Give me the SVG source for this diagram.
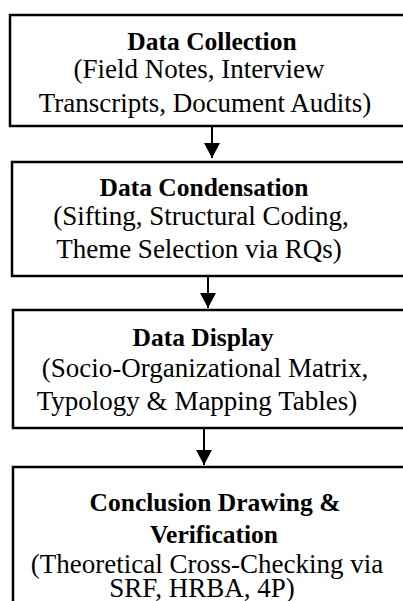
<svg xmlns="http://www.w3.org/2000/svg" width="403" height="601" viewBox="0 0 403 601">
<style>
.box{fill:#fff;stroke:#000;stroke-width:2.5}
.t{font-family:"Liberation Serif","Times New Roman",serif;font-size:25.5px;font-weight:bold;text-anchor:middle;fill:#000}
.s{font-family:"Liberation Serif","Times New Roman",serif;font-size:27px;text-anchor:middle;fill:#000}
.c{stroke:#000;stroke-width:2;fill:none}
</style>
<defs>
<marker id="ah" markerUnits="userSpaceOnUse" markerWidth="16" markerHeight="16" viewBox="0 0 16 16" refX="15" refY="8" orient="auto">
<path d="M0,0 L15,8 L0,16 Z" fill="#000"/>
</marker>
</defs>
<rect width="403" height="601" fill="#fff"/>
<g id="connectors">
<line class="c" x1="212" y1="127" x2="212" y2="158" marker-end="url(#ah)"/>
<line class="c" x1="208" y1="277" x2="208" y2="308" marker-end="url(#ah)"/>
<line class="c" x1="204" y1="429" x2="204" y2="465" marker-end="url(#ah)"/>
</g>
<g id="node1">
<rect class="box" x="10" y="15" width="400" height="111"/>
<text class="t" x="212" y="50">Data Collection</text>
<text class="s" x="199" y="78">(Field Notes, Interview</text>
<text class="s" x="205" y="112">Transcripts, Document Audits)</text>
</g>
<g id="node2">
<rect class="box" x="12" y="162" width="400" height="114"/>
<text class="t" x="204" y="196">Data Condensation</text>
<text class="s" x="201" y="225">(Sifting, Structural Coding,</text>
<text class="s" x="199" y="258">Theme Selection via RQs)</text>
</g>
<g id="node3">
<rect class="box" x="13" y="310" width="400" height="118"/>
<text class="t" x="203" y="346">Data Display</text>
<text class="s" x="205" y="377">(Socio-Organizational Matrix,</text>
<text class="s" x="197" y="410">Typology &amp; Mapping Tables)</text>
</g>
<g id="node4">
<rect class="box" x="13" y="467" width="400" height="200"/>
<text class="t" x="215" y="511">Conclusion Drawing &amp;</text>
<text class="t" x="214" y="543">Verification</text>
<text class="s" x="207" y="573">(Theoretical Cross-Checking via</text>
<text class="s" x="202" y="597">SRF, HRBA, 4P)</text>
</g>
</svg>
